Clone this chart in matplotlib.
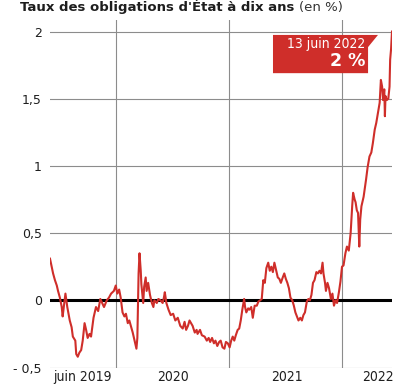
import matplotlib
matplotlib.use("Agg")
import matplotlib.pyplot as plt
from matplotlib.patches import Polygon
import pandas as pd

# rendement de l'OAT à 10 ans, en %
dates = [
    "2019-06-01", "2019-06-11", "2019-06-17", "2019-06-23", "2019-06-27", "2019-07-03",
    "2019-07-09", "2019-07-12", "2019-07-21", "2019-07-27", "2019-08-04", "2019-08-10",
    "2019-08-14", "2019-08-22", "2019-08-25", "2019-08-30", "2019-09-04", "2019-09-10",
    "2019-09-15", "2019-09-21", "2019-09-26", "2019-10-01", "2019-10-07", "2019-10-12",
    "2019-10-20", "2019-10-28", "2019-11-04", "2019-11-11", "2019-11-17", "2019-11-23",
    "2019-12-02", "2019-12-09", "2019-12-16", "2019-12-25", "2019-12-31",
    "2020-01-05", "2020-01-11", "2020-01-16", "2020-01-22", "2020-01-28", "2020-02-02",
    "2020-02-08", "2020-02-13", "2020-02-19", "2020-02-24", "2020-03-01", "2020-03-07",
    "2020-03-10", "2020-03-12", "2020-03-14", "2020-03-17", "2020-03-21", "2020-03-23",
    "2020-03-26", "2020-03-29", "2020-04-01", "2020-04-06", "2020-04-09", "2020-04-14",
    "2020-04-20", "2020-04-26", "2020-05-01", "2020-05-04", "2020-05-12", "2020-05-17",
    "2020-05-24", "2020-05-31", "2020-06-04", "2020-06-07", "2020-06-12", "2020-06-19",
    "2020-06-26", "2020-07-04", "2020-07-11", "2020-07-19", "2020-07-27", "2020-08-04",
    "2020-08-10", "2020-08-15", "2020-08-21", "2020-08-26", "2020-09-05", "2020-09-12",
    "2020-09-18", "2020-09-21", "2020-09-29", "2020-10-05", "2020-10-14", "2020-10-21",
    "2020-10-27", "2020-11-01", "2020-11-07", "2020-11-13", "2020-11-18", "2020-11-24",
    "2020-11-30", "2020-12-05", "2020-12-11", "2020-12-17", "2020-12-22", "2020-12-28",
    "2021-01-03", "2021-01-08", "2021-01-13", "2021-01-18", "2021-01-23", "2021-01-29",
    "2021-02-03", "2021-02-08", "2021-02-13", "2021-02-19", "2021-02-22", "2021-02-26",
    "2021-03-04", "2021-03-08", "2021-03-14", "2021-03-19", "2021-03-25", "2021-04-01",
    "2021-04-06", "2021-04-12", "2021-04-17", "2021-04-22", "2021-04-27", "2021-05-02",
    "2021-05-08", "2021-05-13", "2021-05-18", "2021-05-23", "2021-05-28", "2021-06-03",
    "2021-06-08", "2021-06-13", "2021-06-18", "2021-06-24", "2021-06-29", "2021-07-04",
    "2021-07-09", "2021-07-14", "2021-07-19", "2021-07-25", "2021-07-30", "2021-08-04",
    "2021-08-09", "2021-08-14", "2021-08-20", "2021-08-25", "2021-08-30", "2021-09-04",
    "2021-09-10", "2021-09-15", "2021-09-20", "2021-09-25", "2021-09-30", "2021-10-05",
    "2021-10-11", "2021-10-16", "2021-10-21", "2021-10-26", "2021-10-31", "2021-11-03",
    "2021-11-08", "2021-11-11", "2021-11-16", "2021-11-21", "2021-11-27", "2021-12-02",
    "2021-12-07", "2021-12-12", "2021-12-17", "2021-12-23", "2021-12-28",
    "2022-01-02", "2022-01-07", "2022-01-13", "2022-01-18", "2022-01-24", "2022-01-30",
    "2022-02-04", "2022-02-07", "2022-02-12", "2022-02-15", "2022-02-19", "2022-02-23",
    "2022-02-27", "2022-03-02", "2022-03-06", "2022-03-13", "2022-03-21", "2022-03-26",
    "2022-04-01", "2022-04-07", "2022-04-12", "2022-04-18", "2022-04-23", "2022-04-29",
    "2022-05-04", "2022-05-08", "2022-05-12", "2022-05-15", "2022-05-19", "2022-05-21",
    "2022-05-23", "2022-05-27", "2022-06-01", "2022-06-05", "2022-06-07", "2022-06-10",
    "2022-06-13",
]
taux = [
    0.31, 0.20, 0.15, 0.11, 0.07, 0.02,
    -0.05, -0.12, 0.05, -0.05, -0.15, -0.20,
    -0.27, -0.30, -0.40, -0.42, -0.39, -0.37,
    -0.30, -0.17, -0.22, -0.28, -0.25, -0.27,
    -0.13, -0.05, -0.08, 0.01, -0.02, -0.05,
    0.00, 0.02, 0.05, 0.07, 0.11,
    0.05, 0.08, 0.02, -0.09, -0.12, -0.10,
    -0.17, -0.15, -0.20, -0.24, -0.30, -0.36,
    -0.28, -0.05, 0.20, 0.35, 0.22, 0.12,
    0.05, -0.02, 0.10, 0.17, 0.07, 0.13,
    0.04, -0.02, -0.05, 0.00, -0.02, 0.01,
    0.00, -0.02, 0.02, 0.06, -0.02, -0.07,
    -0.11, -0.10, -0.15, -0.13, -0.19, -0.21,
    -0.16, -0.22, -0.19, -0.15, -0.19, -0.24,
    -0.22, -0.25, -0.22, -0.26, -0.27, -0.30,
    -0.28, -0.31, -0.28, -0.32, -0.30, -0.34,
    -0.31, -0.30, -0.35, -0.36, -0.31, -0.32,
    -0.35, -0.30, -0.27, -0.30, -0.26, -0.22,
    -0.21, -0.15, -0.07, 0.01, -0.05, -0.09,
    -0.06, -0.07, -0.05, -0.13, -0.04, -0.04,
    -0.01, 0.00, 0.01, 0.15, 0.13, 0.24,
    0.28, 0.22, 0.25, 0.21, 0.28, 0.22,
    0.17, 0.16, 0.13, 0.17, 0.20, 0.16,
    0.13, 0.09, 0.02, 0.00, -0.04, -0.09,
    -0.12, -0.15, -0.13, -0.15, -0.11, -0.09,
    -0.01, 0.01, 0.00, 0.04, 0.13, 0.15,
    0.21, 0.20, 0.22, 0.20, 0.28, 0.20,
    0.13, 0.07, 0.13, 0.09, 0.01, 0.05,
    -0.04, 0.00, -0.02, 0.06, 0.14,
    0.25, 0.26, 0.35, 0.40, 0.37, 0.50,
    0.70, 0.80, 0.75, 0.73, 0.67, 0.65,
    0.40, 0.60, 0.70, 0.77, 0.90, 0.99,
    1.07, 1.10, 1.17, 1.27, 1.32, 1.40,
    1.47, 1.64, 1.59, 1.49, 1.57, 1.37,
    1.52, 1.49, 1.50, 1.59, 1.79, 1.87,
    2.00,
]

year_starts = ["2020-01-01", "2021-01-01", "2022-01-01"]
x_labels = ["juin 2019", "2020", "2021", "2022"]
x_label_dates = ["2019-09-14", "2020-07-03", "2021-07-07", "2022-04-28"]
y_ticks = [-0.5, 0, 0.5, 1, 1.5, 2]
y_labels = ["- 0,5", "0", "0,5", "1", "1,5", "2"]
mois = ["janvier", "février", "mars", "avril", "mai", "juin", "juillet",
        "août", "septembre", "octobre", "novembre", "décembre"]

RED = "#cf2e2a"
GRID = "#8c8c8c"
TEXT = "#1e1e1e"

plt.rcParams["font.family"] = "DejaVu Sans"

dt = pd.to_datetime(dates)

fig = plt.figure(figsize=(3.99, 3.87), dpi=100)
ax = fig.add_axes([50 / 399, 1 - 367.5 / 387, 342 / 399, 347.5 / 387])

ax.plot(dt, taux, color=RED, lw=1.5, solid_joinstyle="round", zorder=3)
ax.axhline(0, color="black", lw=2.2, zorder=2)

ax.set_xlim(dt[0], dt[-1])
ax.set_ylim(-0.5, 2.086)

ax.set_yticks(y_ticks)
ax.set_yticklabels(y_labels, fontsize=9, color=TEXT)
ax.set_xticks(pd.to_datetime(x_label_dates))
ax.set_xticklabels(x_labels, fontsize=10, color=TEXT, fontstretch="condensed")
ax.set_xticks(pd.to_datetime(year_starts), minor=True)
ax.tick_params(which="both", length=0)
ax.tick_params(axis="y", pad=6)
ax.tick_params(axis="x", pad=2)

ax.grid(axis="y", which="major", color=GRID, lw=0.8, zorder=1)
ax.grid(axis="x", which="minor", color=GRID, lw=0.8, zorder=1)
ax.grid(axis="x", which="major", visible=False)
for side in ax.spines.values():
    side.set_visible(False)

# cartouche rouge avec la dernière valeur
flag = Polygon([(0.652, 0.957), (0.959, 0.957), (0.930, 0.922), (0.930, 0.847), (0.652, 0.847)],
               closed=True, transform=ax.transAxes, facecolor=RED, edgecolor="none", zorder=4)
ax.add_patch(flag)
last = dt[-1]
ax.text(0.922, 0.931, f"{last.day} {mois[last.month - 1]} {last.year}", transform=ax.transAxes,
        ha="right", va="center", fontsize=10, color="white", fontstretch="condensed", zorder=5)
ax.text(0.922, 0.883, f"{taux[-1]:.0f} %", transform=ax.transAxes,
        ha="right", va="center", fontsize=12.5, fontweight="bold", color="white", zorder=5)

# titre
y_title = 1 - 11 / 387
t1 = fig.text(20 / 399, y_title, "Taux des obligations d'État à dix ans ", fontsize=9.5,
              fontweight="bold", color=TEXT, va="baseline", ha="left")
fig.canvas.draw()
bb = t1.get_window_extent()
fig.text(bb.x1 / fig.bbox.width, y_title, "(en %)", fontsize=9.5, color="#333333",
         va="baseline", ha="left")

fig.savefig("out.png", dpi=100)
